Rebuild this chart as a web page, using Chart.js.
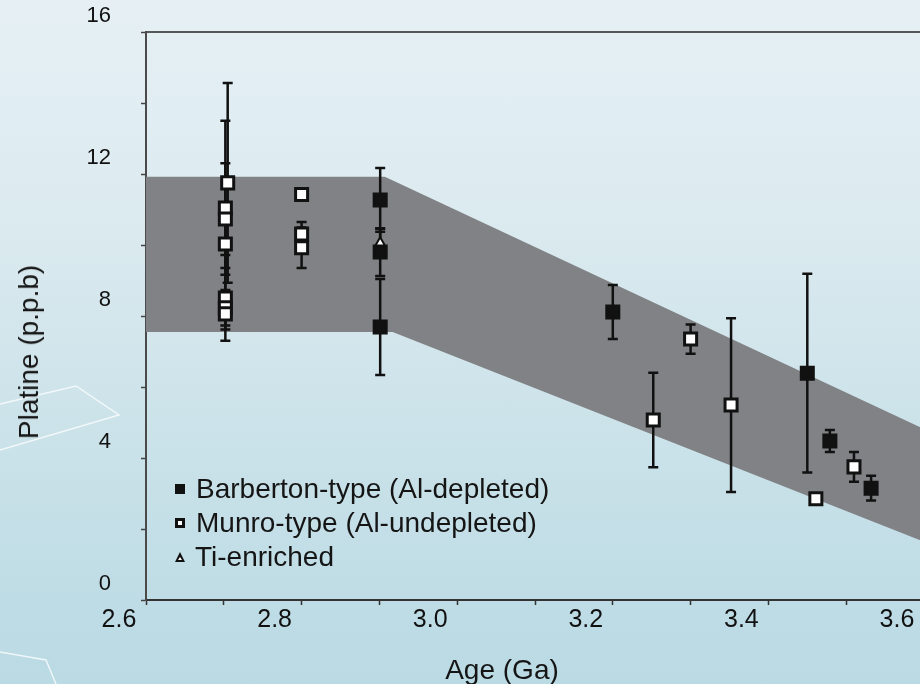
<!DOCTYPE html>
<html>
<head>
<meta charset="utf-8">
<script src="https://cdn.jsdelivr.net/npm/chart.js@4.4.1/dist/chart.umd.min.js"></script>
<style>
  html, body { margin: 0; padding: 0; width: 920px; height: 684px; overflow: hidden; }
  body {
    background: linear-gradient(180deg, #e6f0f4 0%, #dcebf0 30%, #cde3ea 60%, #c0dde6 85%, #badae4 100%);
    font-family: "Liberation Sans", Arial, sans-serif;
    color: #151515;
  }
  #wrap { position: relative; width: 940px; height: 684px; }
  #wrap canvas, #wrap svg { position: absolute; left: 0; top: 0; }
  .ytitle {
    position: absolute; left: 29px; top: 352px; font-size: 28px; white-space: nowrap;
    transform: translate(-50%, -50%) rotate(-90deg);
  }
  .xtitle {
    position: absolute; left: 502px; top: 670px; font-size: 28px; white-space: nowrap;
    transform: translate(-50%, -50%);
  }
  .legend { position: absolute; left: 175px; top: 472px; font-size: 28px; line-height: 34px; }
  .legend div { display: flex; align-items: center; white-space: nowrap; }
  .mk { display: inline-block; width: 10px; height: 10px; margin-right: 11px; box-sizing: border-box; }
  .mk.filled { background: #111; }
  .mk.open { background: #fff; border: 3px solid #111; }
  .mk.tri { width: 0; height: 0; border-left: 5.5px solid transparent; border-right: 5.5px solid transparent;
            border-bottom: 10px solid #111; position: relative; margin-right: 10px; }
  .mk.tri::after { content: ""; position: absolute; left: -2px; top: 4.5px; border-left: 2px solid transparent;
            border-right: 2px solid transparent; border-bottom: 3.5px solid #fff; }
</style>
</head>
<body>
<div id="wrap">
  <svg width="940" height="684">
    <polyline points="0,404 76,386 119,415 0,450" fill="none" stroke="#ffffff" stroke-opacity="0.75" stroke-width="1.5"/>
    <polyline points="0,652 46,660 56,684" fill="none" stroke="#ffffff" stroke-opacity="0.75" stroke-width="1.5"/>
  </svg>
  <canvas id="chart" width="940" height="684"></canvas>
  <div class="ytitle">Platine (p.p.b)</div>
  <div class="xtitle">Age (Ga)</div>
  <div class="legend" id="legend"></div>
</div>
<script>
// axis ticks
const xTicks = [2.6, 2.7, 2.8, 2.9, 3.0, 3.1, 3.2, 3.3, 3.4, 3.5, 3.6];
const xTickLabels = ['2.6', '', '2.8', '', '3.0', '', '3.2', '', '3.4', '', '3.6'];
const yTicks = [0, 2, 4, 6, 8, 10, 12, 14, 16];
const yTickLabels = ['0', '', '4', '', '8', '', '12', '', '16'];

// Barberton-type (Al-depleted)
const barbertonAge = [2.901, 2.901, 2.901, 3.200, 3.450, 3.479, 3.532];
const barbertonPt = [11.27, 9.80, 7.69, 8.11, 6.39, 4.48, 3.15];
const barbertonErr = [0.90, 0.67, 1.35, 0.76, 2.80, 0.31, 0.35];

// Munro-type (Al-undepleted)
const munroAge = [2.705, 2.702, 2.702, 2.702, 2.702, 2.702, 2.702, 2.800, 2.800, 2.800, 3.252, 3.300, 3.352, 3.461, 3.510];
const munroPt = [11.75, 11.04, 10.73, 10.03, 8.51, 8.23, 8.06, 11.42, 10.31, 9.92, 5.07, 7.35, 5.49, 2.85, 3.75];
const munroErr = [2.81, 2.46, 1.57, 0.68, 1.21, 0.50, 0.44, 0, 0.34, 0.57, 1.33, 0.41, 2.45, 0, 0.42];

// Ti-enriched
const tiAge = [2.901];
const tiPt = [10.06];
const tiErr = [0.40];

// grey band
const bandUpperAge = [2.6, 2.907, 3.6];
const bandUpperPt = [11.92, 11.92, 4.82];
const bandLowerAge = [2.6, 2.917, 3.6];
const bandLowerPt = [7.55, 7.55, 1.64];

const seriesNames = ['Barberton-type (Al-depleted)', 'Munro-type (Al-undepleted)', 'Ti-enriched'];
const seriesMarks = ['filled', 'open', 'tri'];

const FONT = '"Liberation Sans", Arial, sans-serif';
const pts = (xs, ys) => xs.map((x, i) => ({ x: x, y: ys[i] }));

// legend (html, inside plot)
const legendEl = document.getElementById('legend');
seriesNames.forEach((name, i) => {
  const row = document.createElement('div');
  const mk = document.createElement('span');
  mk.className = 'mk ' + seriesMarks[i];
  row.appendChild(mk);
  row.appendChild(document.createTextNode(name));
  legendEl.appendChild(row);
});

// vertical error bars with caps, drawn under the markers
const errorBars = {
  id: 'errorBars',
  beforeDatasetsDraw(chart) {
    const ctx = chart.ctx;
    const yScale = chart.scales.y;
    chart.data.datasets.forEach((ds, i) => {
      if (!ds.errors) return;
      const meta = chart.getDatasetMeta(i);
      ctx.save();
      ctx.strokeStyle = '#111';
      ctx.lineWidth = 2.5;
      meta.data.forEach((pt, j) => {
        const e = ds.errors[j];
        if (!e) return;
        const v = ds.data[j].y;
        const top = yScale.getPixelForValue(v + e);
        const bot = yScale.getPixelForValue(v - e);
        ctx.beginPath();
        ctx.moveTo(pt.x, top); ctx.lineTo(pt.x, bot);
        ctx.moveTo(pt.x - 5, top); ctx.lineTo(pt.x + 5, top);
        ctx.moveTo(pt.x - 5, bot); ctx.lineTo(pt.x + 5, bot);
        ctx.stroke();
      });
      ctx.restore();
    });
  }
};

new Chart(document.getElementById('chart'), {
  type: 'scatter',
  data: {
    datasets: [
      {
        label: seriesNames[2],
        data: pts(tiAge, tiPt),
        errors: tiErr,
        pointStyle: 'triangle',
        pointRadius: 5.5,
        backgroundColor: '#fff',
        borderColor: '#111',
        borderWidth: 2
      },
      {
        label: seriesNames[0],
        data: pts(barbertonAge, barbertonPt),
        errors: barbertonErr,
        pointStyle: 'rect',
        pointRadius: 8.5,
        backgroundColor: '#111',
        borderColor: '#111',
        borderWidth: 3
      },
      {
        label: seriesNames[1],
        data: pts(munroAge, munroPt),
        errors: munroErr,
        pointStyle: 'rect',
        pointRadius: 8.5,
        backgroundColor: '#fff',
        borderColor: '#111',
        borderWidth: 3
      },
      {
        type: 'line',
        label: 'band top',
        data: pts(bandUpperAge, bandUpperPt),
        fill: '+1',
        backgroundColor: '#818285',
        borderWidth: 0,
        pointRadius: 0,
        tension: 0,
        order: 10
      },
      {
        type: 'line',
        label: 'band bottom',
        data: pts(bandLowerAge, bandLowerPt),
        fill: false,
        borderWidth: 0,
        pointRadius: 0,
        tension: 0,
        order: 11
      }
    ]
  },
  options: {
    responsive: false,
    animation: false,
    devicePixelRatio: 1,
    layout: { padding: { top: 32, right: 16, left: 0, bottom: 0 } },
    plugins: {
      legend: { display: false },
      tooltip: { enabled: false },
      filler: { drawTime: 'beforeDatasetsDraw' }
    },
    scales: {
      x: {
        type: 'linear',
        position: 'bottom',
        min: 2.6,
        max: 3.6,
        afterBuildTicks: s => { s.ticks = xTicks.map(v => ({ value: v })); },
        afterFit: s => { s.height = 84; s.paddingLeft = 0; s.paddingRight = 0; },
        ticks: {
          autoSkip: false,
          maxRotation: 0,
          labelOffset: -27,
          padding: 0,
          color: '#111',
          font: { family: FONT, size: 25 },
          callback: (v, i) => xTickLabels[i]
        },
        grid: { drawOnChartArea: false, tickLength: 5, tickColor: '#333', tickWidth: 1.5 },
        border: { color: '#333', width: 2 }
      },
      x2: {
        type: 'linear',
        position: 'top',
        min: 2.6,
        max: 3.6,
        afterFit: s => { s.height = 0; s.paddingLeft = 0; s.paddingRight = 0; },
        ticks: { display: false },
        grid: { display: false },
        border: { display: true, color: '#57585a', width: 2 }
      },
      y: {
        type: 'linear',
        min: 0,
        max: 16,
        afterBuildTicks: s => { s.ticks = yTicks.map(v => ({ value: v })); },
        afterFit: s => { s.width = 146; s.paddingTop = 0; s.paddingBottom = 0; },
        ticks: {
          autoSkip: false,
          labelOffset: -16,
          padding: 30,
          color: '#111',
          font: { family: FONT, size: 22 },
          callback: (v, i) => yTickLabels[i]
        },
        grid: { drawOnChartArea: false, tickLength: 5, tickColor: '#444', tickWidth: 1.5 },
        border: { color: '#4a4a4a', width: 2 }
      }
    }
  },
  plugins: [errorBars]
});
</script>
</body>
</html>
